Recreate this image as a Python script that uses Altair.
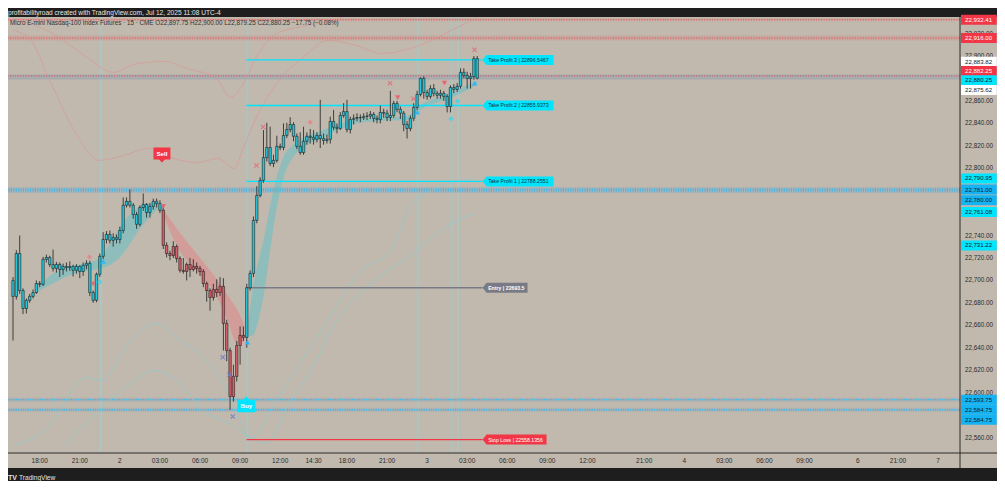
import altair as alt
import pandas as pd

# ---------------- data ----------------
bar_index = list(range(-8, 132))          # 15-minute bars, 0 = Jul 1 18:00
first_open = 22700.0
closes = [22685.75, 22724, 22691, 22675, 22682.25, 22685.75, 22689.25, 22697.25,
          22696.5, 22718.75, 22720.5, 22714.25, 22710.75, 22714.25, 22709.75, 22712.5, 22711.5, 22712.5,
          22709, 22712.5, 22708, 22713.5, 22715.25, 22689.25, 22682.25, 22705.5, 22721.5, 22736.5,
          22741, 22735.75, 22738.25, 22736.5, 22744.5, 22767, 22770.5, 22767, 22758.75, 22750,
          22765, 22767.75, 22760.5, 22766, 22770.5, 22768.5, 22762.5, 22731.25, 22724, 22722.25,
          22730.25, 22719.5, 22709, 22708, 22714.25, 22709.75, 22712.5, 22710.75, 22708, 22697.25,
          22691, 22684.75, 22692, 22689.25, 22694.75, 22661.75, 22637.5, 22596.5, 22614.5, 22642,
          22651, 22649.25, 22693.5, 22706.25, 22753.5, 22775.75, 22789.25, 22809.5, 22818.5, 22804.25,
          22807, 22819.5, 22818.5, 22829.25, 22834.5, 22839, 22828.5, 22819.5, 22814, 22824,
          22828.5, 22827.5, 22825.75, 22829.25, 22826.5, 22824.75, 22825.75, 22841.75, 22836.5, 22835.5,
          22847, 22850.5, 22834.5, 22843.5, 22844.5, 22845.25, 22845, 22846.25, 22846.5, 22848,
          22844.5, 22843.5, 22849.75, 22849, 22845.25, 22847, 22857.75, 22852.5, 22849, 22839,
          22835.5, 22844.5, 22854.25, 22865.75, 22880, 22867.5, 22864, 22871, 22866.75, 22865,
          22866.75, 22864, 22855, 22872, 22870.25, 22873, 22885.5, 22882.75, 22880, 22881.75,
          22897.75, 22880.25]
highs = [22703, 22727, 22740, 22693, 22684, 22688, 22692, 22700,
         22699.5, 22721, 22723, 22722, 22727.5, 22716.5, 22716, 22715, 22716, 22717,
         22714, 22714.5, 22713.5, 22716, 22718, 22717.5, 22691, 22707, 22724, 22743,
         22744, 22744.5, 22742, 22741, 22748, 22774, 22774, 22781, 22769, 22761,
         22767, 22777.5, 22769, 22769, 22773, 22773, 22771.5, 22766, 22734, 22726.5,
         22735, 22732, 22721.5, 22720, 22716, 22720, 22719, 22716, 22713, 22710,
         22699, 22693, 22697, 22701, 22703, 22702, 22665, 22640, 22625, 22646,
         22659, 22659, 22697, 22709, 22757, 22784, 22792, 22834, 22840.5, 22837,
         22812, 22829, 22822, 22840, 22840.5, 22845.5, 22841, 22831, 22832, 22837,
         22832, 22835, 22834, 22832, 22861, 22831, 22830, 22846, 22852, 22840,
         22850, 22858, 22861, 22846, 22848, 22849, 22848, 22849, 22850, 22851,
         22850, 22847, 22856, 22853, 22852, 22869, 22860, 22860, 22855, 22851,
         22842, 22847, 22858, 22869, 22881, 22882, 22870, 22874, 22875, 22869,
         22870, 22869, 22866, 22874, 22875, 22876, 22889, 22889, 22886, 22885,
         22900, 22900]
lows = [22646.5, 22683, 22688, 22670, 22670.5, 22680, 22684, 22688,
        22694, 22695, 22716, 22712, 22708, 22707, 22703, 22705, 22708, 22708.5,
        22703.5, 22706, 22702, 22704, 22710, 22686, 22680, 22680.5, 22703, 22719,
        22733, 22733, 22730, 22733, 22733, 22742, 22765, 22765, 22755, 22746,
        22748, 22762, 22756, 22756, 22763, 22765, 22760, 22728, 22720.5, 22718,
        22720, 22716, 22707, 22706, 22700, 22703, 22708, 22706, 22704, 22694,
        22681, 22673, 22682, 22685, 22686, 22637.5, 22628, 22584.75, 22592, 22610,
        22625, 22646, 22640, 22691, 22703, 22751, 22774, 22787, 22806, 22802,
        22801, 22805, 22816, 22816, 22827, 22832, 22824, 22817, 22812, 22812,
        22821, 22822, 22821, 22823, 22818, 22821, 22822, 22822, 22834, 22831,
        22834, 22845, 22832, 22831, 22839, 22842, 22841, 22843, 22843, 22844,
        22841, 22840, 22840, 22845, 22842, 22842, 22845, 22850, 22844, 22833,
        22826.5, 22833, 22842, 22852, 22864, 22862, 22861, 22862, 22864, 22862,
        22862, 22860, 22849.75, 22849.75, 22867, 22868, 22871, 22880, 22871, 22871,
        22879, 22879.25]
sell_bar, buy_bar = 37, 62

time_tick_index = [0, 12, 24, 36, 48, 60, 72, 82, 92, 104, 116, 128, 140, 152, 164,
                   181, 193, 205, 217, 229, 245, 257, 269]
time_tick_text = ["18:00", "21:00", "2", "03:00", "06:00", "09:00", "12:00", "14:30", "18:00",
                  "21:00", "3", "03:00", "06:00", "09:00", "12:00", "21:00", "4", "03:00",
                  "06:00", "09:00", "6", "21:00", "7"]
# price scale ticks that are not hidden behind a price tag
price_ticks = [22560, 22600, 22620, 22640, 22660, 22680, 22700, 22720, 22740,
               22760, 22800, 22820, 22840, 22860, 22900, 22920]

# trend ribbons
rib_up1_i = [-0.6, 4.4, 8.9, 13.3, 17.8, 20.7, 23.7, 26.7, 29.6, 32.6, 35.6]
rib_up1_hi = [22693.8, 22707.1, 22712.5, 22715.2, 22719.6, 22731.2, 22746.4, 22757.9, 22765.1, 22768.6, 22768.6]
rib_up1_lo = [22690.2, 22698.2, 22704.5, 22708.0, 22710.7, 22713.4, 22719.6, 22731.2, 22744.6, 22755.3, 22764.2]
rib_dn_i = [36.4, 41.5, 47.4, 53.3, 56.3, 59.3, 61.3]
rib_dn_hi = [22766.0, 22744.6, 22722.3, 22700.0, 22686.6, 22673.3, 22659.9]
rib_dn_lo = [22763.3, 22728.5, 22707.1, 22684.0, 22664.3, 22642.1, 22646.5]
rib_up2_i = [62.2, 63.7, 65.5, 67.3, 69.0, 71.1, 73.2, 75.6, 78.5, 84.4, 90.4, 96.3, 105.2, 110.0, 114.1, 120.0, 125.9, 131.0]
rib_up2_hi = [22655.5, 22691.1, 22717.8, 22740.1, 22766.9, 22793.6, 22811.4, 22820.3, 22826.6, 22833.7, 22840.0, 22844.4, 22845.5, 22846.5, 22856.5, 22864.0, 22871.1, 22878.3]
rib_up2_lo = [22650.1, 22650.9, 22664.4, 22691.1, 22726.7, 22766.9, 22793.6, 22808.7, 22817.7, 22826.6, 22835.5, 22840.8, 22842.5, 22843.0, 22852.5, 22859.6, 22866.7, 22874.7]

# faint envelope lines
env_p1_i = [-8, -3, 3, 11, 17.8, 25.2, 32.6, 40, 47.4, 53.3, 58.4, 60.7, 65.2, 71.7, 78.5, 86.5, 94.8, 102.2, 112, 120.9, 131]
env_p1_p = [22923, 22915.7, 22878.3, 22830.1, 22807, 22811.4, 22817.7, 22808.7, 22805.2, 22808.7, 22799.8, 22815.9, 22847.1, 22878.3, 22897.9, 22913.9, 22909.4, 22902.3, 22907.7, 22919.3, 22934.4]
env_p2_i = [-8, 4.4, 13.3, 22.2, 28.1, 37, 45, 52.7, 57.2, 60.7, 65.2, 70.5, 78.5, 86.5, 95]
env_p2_p = [22933.5, 22919.3, 22900.6, 22885.4, 22892.5, 22895.2, 22888.1, 22880.9, 22863.1, 22873.8, 22900.6, 22919.3, 22926.4, 22930.9, 22940]
env_c1_i = [-8, 1.5, 14.2, 18.4, 27.3, 35, 40.9, 48.9, 53.9, 58.7, 62.8, 72.6, 84.4, 96.3, 105.2, 112, 129.8]
env_c1_p = [22553, 22566.3, 22613.5, 22610.9, 22646.5, 22661.7, 22649.2, 22631.4, 22613.5, 22584.1, 22560, 22601.9, 22655.4, 22708.9, 22726.7, 22771.3, 22790.9]
env_c2_i = [7.4, 27.3, 34.1, 42.1, 48.9, 56.9, 67.6, 74.7, 82.4, 88.3, 99.3, 104.3, 111.1, 120, 129.8]
env_c2_p = [22553, 22608.2, 22619.8, 22608.2, 22584.1, 22572.6, 22554.7, 22590.4, 22626, 22661.7, 22697.3, 22708.9, 22722.3, 22744.6, 22759.7]

signal_lines = [18.3, 62.2, 113.2, 123.3, 125.3]

pink_x = [(64.9, 22802.5), (66.9, 22836.7), (104.9, 22875.8), (111.9, 22862.0), (130.2, 22905.6)]
pink_diamond = [(14.9, 22720.8), (81.0, 22841.0)]
pink_tri_down = [(16.0, 22697.0), (37.0, 22766.0), (107.2, 22862.9), (121.2, 22875.9)]
cyan_tri_up = [(19.0, 22716.9), (62.2, 22645.0), (113.1, 22850.0), (130.2, 22875.9)]
cyan_diamond = [(18.0, 22698.5), (123.2, 22844.1), (125.1, 22859.8)]
blue_x = [(54.8, 22631.6), (56.8, 22616.0), (57.8, 22578.8)]

sell_label = (36.6, 22813.1)
buy_label = (61.9, 22588.1)

trade_start, trade_end = 61.9, 132.6
trade_price = [22896.5467, 22855.9373, 22788.2551, 22693.5, 22558.1356]
trade_text = ["Take Profit 3 | 22896.5467", "Take Profit 2 | 22855.9373",
              "Take Profit 1 | 22788.2551", "Entry | 22693.5", "Stop Loss | 22558.1356"]

right_label_price = [22932.41, 22916.00, 22883.82, 22882.25, 22880.25, 22875.62, 22790.95,
                     22781.00, 22780.00, 22761.08, 22731.22, 22593.75, 22584.75, 22584.75]
right_label_kind = ["red", "red", "white", "red", "cyan", "white", "cyan",
                    "blue", "blue", "cyan", "cyan", "blue", "blue", "blue"]
right_label_nudge = [0, 0, -12.5, -5, 2, 6.5, 0, 0, 9.5, 0, 0, 0, 0, 10]

header1 = "profitabilityroad created with TradingView.com, Jul 12, 2025 11:08 UTC-4"
header2 = ("Micro E-mini Nasdaq-100 Index Futures · 15 · CME  O22,897.75  H22,900.00  "
           "L22,879.25  C22,880.25  −17.75 (−0.08%)")

# ---------------- style ----------------
BG = "#1e1e1e"
BEIGE = "#c1b9ad"
CYAN = "#00e5ff"
BLUE = "#14b4f4"
RED = "#f23645"
GREY = "#787b86"
UP = "#26c6da"
DN = "#d8606a"
INK = "#2a2a2a"
FONT = "Liberation Sans"
W, H = 952, 436

XS = alt.Scale(domain=[-8, 274.07], nice=False, zero=False)
YS = alt.Scale(domain=[22546.2, 22934.8], nice=False, zero=False)


def xq(f):
    return alt.X(f"{f}:Q", scale=XS, axis=None)


def yq(f):
    return alt.Y(f"{f}:Q", scale=YS, axis=None)


one = pd.DataFrame({"k": [0]})
layers = []

# side strips of the panel (price axis + time axis)
layers.append(alt.Chart(one).mark_rect(color=BEIGE).encode(
    x=alt.value(W), x2=alt.value(989), y=alt.value(0), y2=alt.value(451)))
layers.append(alt.Chart(one).mark_rect(color=BEIGE).encode(
    x=alt.value(0), x2=alt.value(W), y=alt.value(H), y2=alt.value(451)))

# faint vertical signal lines
layers.append(alt.Chart(pd.DataFrame({"i": signal_lines})).mark_rule(
    color="#8fd6dc", opacity=0.4, strokeWidth=2).encode(x=xq("i")))


def hrule(price, color, width, opacity, dash=None):
    kw = dict(color=color, strokeWidth=width, opacity=opacity)
    if dash:
        kw["strokeDash"] = dash
    return alt.Chart(pd.DataFrame({"p": [price]})).mark_rule(**kw).encode(y=yq("p"))


# horizontal level bands and dotted lines
layers += [
    hrule(22932.41, RED, 3, 0.10), hrule(22932.41, RED, 1.2, 0.6, [1.2, 1.4]),
    hrule(22916.00, RED, 5, 0.13), hrule(22916.00, RED, 1.2, 0.6, [1.2, 1.4]),
    hrule(22881.25, "#7090b5", 5, 0.3), hrule(22882.25, RED, 1.2, 0.6, [1.2, 1.4]),
    hrule(22780.5, "#2196f3", 6, 0.15), hrule(22780.5, "#19b5f0", 3, 0.7, [1.1, 1.3]),
    hrule(22593.75, "#2196f3", 4, 0.14), hrule(22593.75, "#19b5f0", 1.3, 0.8, [1.1, 1.3]),
    hrule(22584.75, "#2196f3", 4, 0.14), hrule(22584.75, "#19b5f0", 1.3, 0.8, [1.1, 1.3]),
]

# envelope lines
for ii, pp, col in [(env_p1_i, env_p1_p, "#de8f8f"), (env_p2_i, env_p2_p, "#de8f8f"),
                    (env_c1_i, env_c1_p, "#7ccfd6"), (env_c2_i, env_c2_p, "#7ccfd6")]:
    layers.append(alt.Chart(pd.DataFrame({"i": ii, "p": pp})).mark_line(
        color=col, strokeWidth=0.8, opacity=0.7, clip=True, interpolate="monotone").encode(
        x=xq("i"), y=yq("p")))

# trend ribbons
for ii, hi, lo, col, op in [(rib_up1_i, rib_up1_hi, rib_up1_lo, "#3cc6d4", 0.38),
                            (rib_dn_i, rib_dn_hi, rib_dn_lo, "#ee6f7a", 0.38),
                            (rib_up2_i, rib_up2_hi, rib_up2_lo, "#3cc6d4", 0.38)]:
    layers.append(alt.Chart(pd.DataFrame({"i": ii, "hi": hi, "lo": lo})).mark_area(
        color=col, opacity=op, interpolate="monotone").encode(
        x=xq("i"), y=yq("hi"), y2=alt.Y2("lo:Q")))

# trade lines
trade_colors = [CYAN, CYAN, CYAN, GREY, RED]
for price, col in zip(trade_price, trade_colors):
    layers.append(alt.Chart(pd.DataFrame({"a": [trade_start], "b": [trade_end], "p": [price]})).mark_rule(
        color=col, strokeWidth=1.3).encode(x=xq("a"), x2=alt.X2("b:Q"), y=yq("p")))

# candles
opens = [first_open] + closes[:-1]
candles = pd.DataFrame({"i": bar_index, "o": opens, "h": highs, "l": lows, "c": closes})
candles["r"] = ["down" if sell_bar <= i < buy_bar else "up" for i in bar_index]
layers.append(alt.Chart(candles).mark_rule(color="#303030", strokeWidth=0.9).encode(
    x=xq("i"), y=yq("l"), y2=alt.Y2("h:Q")))
for reg, col in [("up", UP), ("down", DN)]:
    layers.append(alt.Chart(candles[candles["r"] == reg]).mark_bar(
        size=2.4, color=col, stroke="#161616", strokeWidth=0.55).encode(
        x=xq("i"), y=yq("o"), y2=alt.Y2("c:Q")))

# small signal markers
XPATH = "M-1,-1L1,1M-1,1L1,-1"


def markers(pts, shape, color, size, filled=True, sw=1.0):
    df = pd.DataFrame({"i": [a for a, b in pts], "p": [b for a, b in pts]})
    kw = dict(shape=shape, size=size, filled=filled, opacity=0.9)
    if filled:
        kw.update(color=color, strokeWidth=0)
    else:
        kw.update(stroke=color, strokeWidth=sw)
    return alt.Chart(df).mark_point(**kw).encode(x=xq("i"), y=yq("p"))


layers += [
    markers(pink_x, XPATH, "#e0707a", 18, filled=False, sw=1.1),
    markers(blue_x, XPATH, "#6f7fcf", 18, filled=False, sw=1.1),
    markers(pink_diamond, "diamond", "#e48a8f", 30),
    markers(pink_tri_down, "triangle-down", "#e8606c", 30),
    markers(cyan_tri_up, "triangle-up", "#29b6f6", 30),
    markers(cyan_diamond, "diamond", "#4fd0e0", 30),
]

# Sell / Buy labels
SELL_PATH = "M-0.944,-0.667L0.944,-0.667L0.944,0.667L0.333,0.667L0,1L-0.333,0.667L-0.944,0.667Z"
BUY_PATH = "M-0.944,0.667L0.944,0.667L0.944,-0.667L0.333,-0.667L0,-1L-0.333,-0.667L-0.944,-0.667Z"
for (li, lp), path, col, txt, sz in [(sell_label, SELL_PATH, RED, "Sell", 324),
                                     (buy_label, BUY_PATH, CYAN, "Buy", 361)]:
    d = pd.DataFrame({"i": [li], "p": [lp], "t": [txt]})
    layers.append(alt.Chart(d).mark_point(shape=path, size=sz, filled=True, color=col,
                                          opacity=1, strokeWidth=0).encode(x=xq("i"), y=yq("p")))
    layers.append(alt.Chart(d).mark_text(font=FONT, fontSize=6.2, fontWeight="bold", color="white",
                                         baseline="middle").encode(x=xq("i"), y=yq("p"), text="t:N"))

# trade labels with arrow boxes
label_widths = [71, 71, 71, 45, 64]
label_bg = [CYAN, CYAN, CYAN, GREY, RED]
label_fg = ["#12303a", "#12303a", "#12303a", "#ffffff", "#ffffff"]
label_bold = ["normal", "normal", "normal", "bold", "normal"]
for price, txt, wdt, bg, fg, fw in zip(trade_price, trade_text, label_widths, label_bg, label_fg, label_bold):
    s = wdt / 2.0
    a = 4.0 / s
    hh = 5.0 / s
    path = f"M-1,0L{-1 + a:.4f},{-hh:.4f}L1,{-hh:.4f}L1,{hh:.4f}L{-1 + a:.4f},{hh:.4f}Z"
    d = pd.DataFrame({"i": [trade_end], "p": [price], "t": [txt]})
    layers.append(alt.Chart(d).mark_point(shape=path, size=wdt * wdt, filled=True, color=bg,
                                          opacity=1, strokeWidth=0, xOffset=s).encode(
        x=xq("i"), y=yq("p")))
    layers.append(alt.Chart(d).mark_text(font=FONT, fontSize=5.2, fontWeight=fw, color=fg, align="left",
                                         baseline="middle", dx=5.6).encode(
        x=xq("i"), y=yq("p"), text="t:N"))

# panel separators
layers.append(alt.Chart(one).mark_rule(color="#2b2b2b", strokeWidth=1).encode(
    x=alt.value(W), y=alt.value(0), y2=alt.value(451)))
layers.append(alt.Chart(one).mark_rule(color="#2b2b2b", strokeWidth=1).encode(
    x=alt.value(0), x2=alt.value(989), y=alt.value(H)))

# price scale labels
ticks = pd.DataFrame({"p": price_ticks, "t": [f"{v:,.2f}" for v in price_ticks]})
layers.append(alt.Chart(ticks).mark_text(font=FONT, fontSize=6.3, color=INK, align="left",
                                         baseline="middle").encode(
    x=alt.value(957), y=yq("p"), text="t:N"))

kind_bg = {"red": RED, "white": "#ffffff", "cyan": CYAN, "blue": BLUE}
kind_fg = {"red": "#ffffff", "white": "#131722", "cyan": "#131722", "blue": "#131722"}
BOX = "M-1,-0.28L1,-0.28L1,0.28L-1,0.28Z"
for price, kind, nud in zip(right_label_price, right_label_kind, right_label_nudge):
    d = pd.DataFrame({"p": [price], "t": [f"{price:,.2f}"]})
    layers.append(alt.Chart(d).mark_point(shape=BOX, size=1274, filled=True, color=kind_bg[kind],
                                          opacity=1, strokeWidth=0, yOffset=nud).encode(
        x=alt.value(970.85), y=yq("p")))
    layers.append(alt.Chart(d).mark_text(font=FONT, fontSize=6.1, color=kind_fg[kind], align="left",
                                         baseline="middle", dy=nud).encode(
        x=alt.value(957), y=yq("p"), text="t:N"))

# time labels
tl = pd.DataFrame({"i": time_tick_index, "t": time_tick_text})
layers.append(alt.Chart(tl).mark_text(font=FONT, fontSize=6.5, color=INK, baseline="middle").encode(
    x=xq("i"), y=alt.value(444), text="t:N"))

# header and footer texts
layers.append(alt.Chart(one).mark_text(text=header1, font=FONT, fontSize=6.6, color="#e6e6e6",
                                       align="left", baseline="middle").encode(
    x=alt.value(0), y=alt.value(-4.5)))
layers.append(alt.Chart(one).mark_text(text=header2, font=FONT, fontSize=6.3, color="#333333",
                                       align="left", baseline="middle").encode(
    x=alt.value(2), y=alt.value(5.5)))
layers.append(alt.Chart(one).mark_text(text="TV", font=FONT, fontSize=7, fontWeight="bold",
                                       color="#e6e6e6", align="left", baseline="middle").encode(
    x=alt.value(0), y=alt.value(461)))
layers.append(alt.Chart(one).mark_text(text="TradingView", font=FONT, fontSize=6.6, color="#e6e6e6",
                                       align="left", baseline="middle").encode(
    x=alt.value(11), y=alt.value(461)))

chart = alt.layer(*layers).properties(
    width=W, height=H,
    padding={"left": 0, "top": 9, "right": 37, "bottom": 28},
    autosize=alt.AutoSizeParams(type="none"),
    background=BG,
).configure_view(fill=BEIGE, strokeWidth=0)

chart.save("out.html", embed_options={"renderer": "svg", "actions": False})
